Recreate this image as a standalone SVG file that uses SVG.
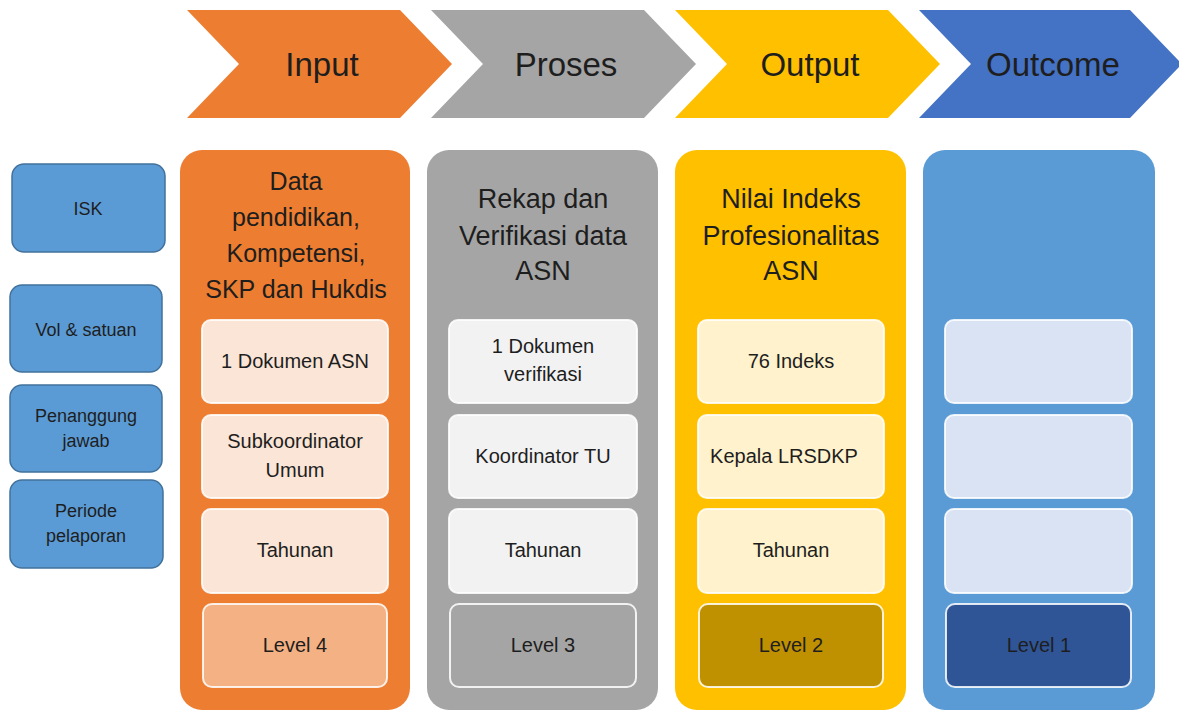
<svg xmlns="http://www.w3.org/2000/svg" width="1179" height="711" viewBox="0 0 1179 711">
<style>
text{font-family:"Liberation Sans",Arial,sans-serif;fill:#1e1e1e;text-anchor:middle}
.chev{font-size:33px}
.title{font-size:27px}
.t-in{font-size:25px}
.inner{font-size:20px}
.side{font-size:18px}
.sidebox{fill:#5B9BD5;stroke:#41719C;stroke-width:1.5}
.box{stroke:#ffffff;stroke-width:2;stroke-opacity:0.85}
</style>
<rect width="1179" height="711" fill="#ffffff"/>

<g id="chevron-input">
<polygon points="187,10 400,10 452,64 400,118 187,118 239,64" fill="#ED7D31"/>
<text class="chev" x="322" y="76">Input</text>
</g>
<g id="chevron-proses">
<polygon points="431,10 644,10 696,64 644,118 431,118 483,64" fill="#A5A5A5"/>
<text class="chev" x="566" y="76">Proses</text>
</g>
<g id="chevron-output">
<polygon points="675,10 888,10 940,64 888,118 675,118 727,64" fill="#FFC000"/>
<text class="chev" x="810" y="76">Output</text>
</g>
<g id="chevron-outcome">
<polygon points="919,10 1130,10 1182,64 1130,118 919,118 971,64" fill="#4472C4"/>
<text class="chev" x="1053" y="76">Outcome</text>
</g>

<g id="label-isk">
<rect class="sidebox" x="12" y="164" width="153" height="88" rx="12"/>
<text class="side" x="88" y="215">ISK</text>
</g>
<g id="label-vol">
<rect class="sidebox" x="10" y="285" width="152" height="87" rx="12"/>
<text class="side" x="86" y="336">Vol &amp; satuan</text>
</g>
<g id="label-pj">
<rect class="sidebox" x="10" y="385" width="152" height="87" rx="12"/>
<text class="side" x="86" y="422">Penanggung</text>
<text class="side" x="86" y="447">jawab</text>
</g>
<g id="label-periode">
<rect class="sidebox" x="10" y="480" width="153" height="88" rx="12"/>
<text class="side" x="86" y="517">Periode</text>
<text class="side" x="86" y="542">pelaporan</text>
</g>

<g id="panel-input">
<rect x="180" y="150" width="230" height="560" rx="22" fill="#ED7D31"/>
<text class="t-in" x="296" y="190">Data</text>
<text class="t-in" x="296" y="226">pendidikan,</text>
<text class="t-in" x="296" y="262">Kompetensi,</text>
<text class="t-in" x="296" y="298">SKP dan Hukdis</text>
<rect class="box" x="202" y="320" width="186" height="83" rx="9" fill="#FBE5D6"/>
<text class="inner" x="295" y="368">1 Dokumen ASN</text>
<rect class="box" x="202" y="415" width="186" height="83" rx="9" fill="#FBE5D6"/>
<text class="inner" x="295" y="448">Subkoordinator</text>
<text class="inner" x="295" y="477">Umum</text>
<rect class="box" x="202" y="509" width="186" height="84" rx="9" fill="#FBE5D6"/>
<text class="inner" x="295" y="557">Tahunan</text>
<rect class="box" x="203" y="604" width="184" height="83" rx="9" fill="#F4B183"/>
<text class="inner" x="295" y="652">Level 4</text>
</g>

<g id="panel-proses">
<rect x="427" y="150" width="231" height="560" rx="22" fill="#A5A5A5"/>
<text class="title" x="543" y="208">Rekap dan</text>
<text class="title" x="543" y="245">Verifikasi data</text>
<text class="title" x="543" y="280">ASN</text>
<rect class="box" x="449" y="320" width="188" height="83" rx="9" fill="#F2F2F2"/>
<text class="inner" x="543" y="353">1 Dokumen</text>
<text class="inner" x="543" y="381">verifikasi</text>
<rect class="box" x="449" y="415" width="188" height="83" rx="9" fill="#F2F2F2"/>
<text class="inner" x="543" y="463">Koordinator TU</text>
<rect class="box" x="449" y="509" width="188" height="84" rx="9" fill="#F2F2F2"/>
<text class="inner" x="543" y="557">Tahunan</text>
<rect class="box" x="450" y="604" width="186" height="83" rx="9" fill="#A5A5A5"/>
<text class="inner" x="543" y="652">Level 3</text>
</g>

<g id="panel-output">
<rect x="675" y="150" width="231" height="560" rx="22" fill="#FFC000"/>
<text class="title" x="791" y="208">Nilai Indeks</text>
<text class="title" x="791" y="245">Profesionalitas</text>
<text class="title" x="791" y="280">ASN</text>
<rect class="box" x="698" y="320" width="186" height="83" rx="9" fill="#FFF2CC"/>
<text class="inner" x="791" y="368">76 Indeks</text>
<rect class="box" x="698" y="415" width="186" height="83" rx="9" fill="#FFF2CC"/>
<text class="inner" x="784" y="463">Kepala LRSDKP</text>
<rect class="box" x="698" y="509" width="186" height="84" rx="9" fill="#FFF2CC"/>
<text class="inner" x="791" y="557">Tahunan</text>
<rect class="box" x="699" y="604" width="184" height="83" rx="9" fill="#BF9000"/>
<text class="inner" x="791" y="652">Level 2</text>
</g>

<g id="panel-outcome">
<rect x="923" y="150" width="232" height="560" rx="22" fill="#5B9BD5"/>
<rect class="box" x="945" y="320" width="187" height="83" rx="9" fill="#DAE3F3"/>
<rect class="box" x="945" y="415" width="187" height="83" rx="9" fill="#DAE3F3"/>
<rect class="box" x="945" y="509" width="187" height="84" rx="9" fill="#DAE3F3"/>
<rect class="box" x="946" y="604" width="185" height="83" rx="9" fill="#2F5597"/>
<text class="inner" x="1039" y="652">Level 1</text>
</g>

<g id="connectors"></g>
</svg>
